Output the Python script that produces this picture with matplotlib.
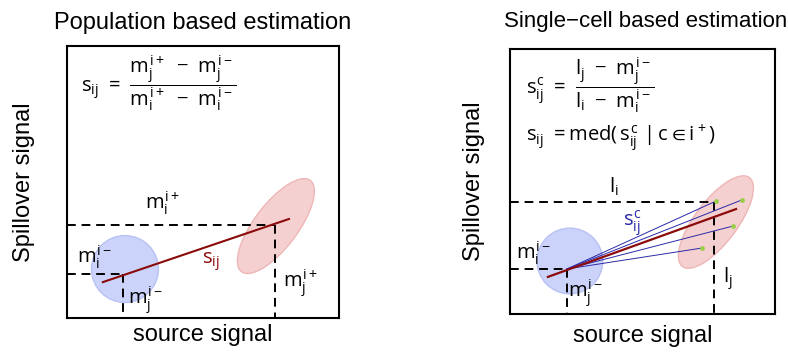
import matplotlib
matplotlib.use("Agg")
import matplotlib.pyplot as plt
from matplotlib.patches import Circle, Ellipse

plt.rcParams['font.family'] = ['Liberation Sans', 'DejaVu Sans']
plt.rcParams['mathtext.fontset'] = 'custom'
plt.rcParams['mathtext.rm'] = 'Open Sans'
plt.rcParams['mathtext.it'] = 'Open Sans'
plt.rcParams['mathtext.bf'] = 'Open Sans:bold'
plt.rcParams['mathtext.fallback'] = 'stixsans'

# Diagram values (axes units 0..1)
titles = ["Population based estimation", "Single\u2212cell based estimation"]
xlabel = "source signal"
ylabel = "Spillover signal"

# population based panel
pop_neg_median = (0.205, 0.162)     # (m_j^{i-}, m_i^{i-})
pop_pos_median = (0.766, 0.342)     # (m_j^{i+}, m_i^{i+})
pop_slope_line_x = [0.132, 0.816]
pop_slope_line_y = [0.132, 0.364]
pop_neg_cloud = (0.213, 0.18, 0.123)            # center x, center y, radius
pop_pos_cloud = (0.768, 0.338, 0.16, 0.42, -37)  # cx, cy, width, height, angle

# single-cell panel
sc_neg_median = (0.215, 0.17)
sc_cell_x = [0.777, 0.874, 0.842, 0.725]
sc_cell_y = [0.426, 0.430, 0.332, 0.249]
sc_ref_cell = (0.770, 0.423)        # (l_j, l_i)
sc_slope_line_x = [0.143, 0.853]
sc_slope_line_y = [0.140, 0.396]
sc_neg_cloud = (0.226, 0.20, 0.124)
sc_pos_cloud = (0.777, 0.347, 0.16, 0.42, -37)

BLUE_FILL = '#cbd3fa'
BLUE_EDGE = '#b8c2f4'
RED_FILL = '#f5d0d0'
RED_EDGE = '#eeb6b6'
DARKRED = '#8b0a0a'
LINEBLUE = '#2a2aa8'
GREEN = '#9acd4a'

fig = plt.figure(figsize=(7.88, 3.52), dpi=100)
W, H = 788, 352
axL = fig.add_axes([67 / W, 1 - 318 / H, 272 / W, 272 / H])
axR = fig.add_axes([510 / W, 1 - 314 / H, 265 / W, 265 / H])

for ax in (axL, axR):
    ax.set_xlim(0, 1)
    ax.set_ylim(0, 1)
    ax.set_xticks([])
    ax.set_yticks([])
    for sp in ax.spines.values():
        sp.set_linewidth(1.5)
axL.set_xlabel(xlabel, fontsize=17, labelpad=4)
axR.set_xlabel(xlabel, fontsize=17, labelpad=8)
axL.set_ylabel(ylabel, fontsize=17, labelpad=23)
axR.set_ylabel(ylabel, fontsize=17, labelpad=18)

dash = dict(color='black', lw=1.4, ls=(0, (4.5, 3)))
FS = 14.5
lbl = dict(fontsize=FS, ha='center', va='center')

# ---- left panel ----
axL.set_title(titles[0], fontsize=17, pad=12)
cx, cy, r = pop_neg_cloud
axL.add_patch(Circle((cx, cy), r, facecolor=BLUE_FILL, edgecolor=BLUE_EDGE, lw=1))
cx, cy, w, h, a = pop_pos_cloud
axL.add_patch(Ellipse((cx, cy), w, h, angle=a, facecolor=RED_FILL, edgecolor=RED_EDGE, lw=1))
xn, yn = pop_neg_median
xp, yp = pop_pos_median
axL.plot([0, xn], [yn, yn], **dash)
axL.plot([xn, xn], [yn, 0], **dash)
axL.plot([0, xp], [yp, yp], **dash)
axL.plot([xp, xp], [yp, 0], **dash)
axL.plot(pop_slope_line_x, pop_slope_line_y, color=DARKRED, lw=1.5)

axL.text(0.353, 0.42, r'$m_i^{i+}$', **lbl)
axL.text(0.103, 0.224, r'$m_i^{i-}$', **lbl)
axL.text(0.29, 0.066, r'$m_j^{i-}$', **lbl)
axL.text(0.86, 0.129, r'$m_j^{i+}$', **lbl)
axL.text(0.53, 0.206, r'$s_{ij}$', color=DARKRED, **lbl)
axL.text(0.05, 0.86, r'$s_{ij}\ =\ \dfrac{m_j^{i+}\ -\ m_j^{i-}}{m_i^{i+}\ -\ m_i^{i-}}$',
         fontsize=FS, ha='left', va='center')

# ---- right panel ----
fig.text(646 / W, 1 - 22 / H, titles[1], fontsize=16, ha='center', va='center')
cx, cy, r = sc_neg_cloud
axR.add_patch(Circle((cx, cy), r, facecolor=BLUE_FILL, edgecolor=BLUE_EDGE, lw=1))
cx, cy, w, h, a = sc_pos_cloud
axR.add_patch(Ellipse((cx, cy), w, h, angle=a, facecolor=RED_FILL, edgecolor=RED_EDGE, lw=1))
xn, yn = sc_neg_median
xc, yc = sc_ref_cell
axR.plot([0, xn], [yn, yn], **dash)
axR.plot([xn, xn], [yn, 0], **dash)
axR.plot([0, xc], [yc, yc], **dash)
axR.plot([xc, xc], [yc, 0], **dash)
for px, py in zip(sc_cell_x, sc_cell_y):
    axR.plot([xn, px], [yn, py], color=LINEBLUE, lw=0.7)
axR.plot(sc_slope_line_x, sc_slope_line_y, color=DARKRED, lw=1.6)
axR.scatter(sc_cell_x, sc_cell_y, s=12, color=GREEN, zorder=5, linewidths=0)

axR.text(0.392, 0.48, r'$l_i$', **lbl)
axR.text(0.09, 0.23, r'$m_i^{i-}$', **lbl)
axR.text(0.285, 0.08, r'$m_j^{i-}$', **lbl)
axR.text(0.82, 0.135, r'$l_j$', **lbl)
axR.text(0.46, 0.343, r'$s_{ij}^c$', color=LINEBLUE, **lbl)
axR.text(0.06, 0.86, r'$s_{ij}^c\ =\ \dfrac{l_j\ -\ m_j^{i-}}{l_i\ -\ m_i^{i-}}$',
         fontsize=FS, ha='left', va='center')
axR.text(0.06, 0.664, r'$s_{ij}\ =\mathrm{med}(\,s_{ij}^c\ |\,c\in i^+)$',
         fontsize=FS, ha='left', va='center')

fig.savefig('out.png', dpi=100)
